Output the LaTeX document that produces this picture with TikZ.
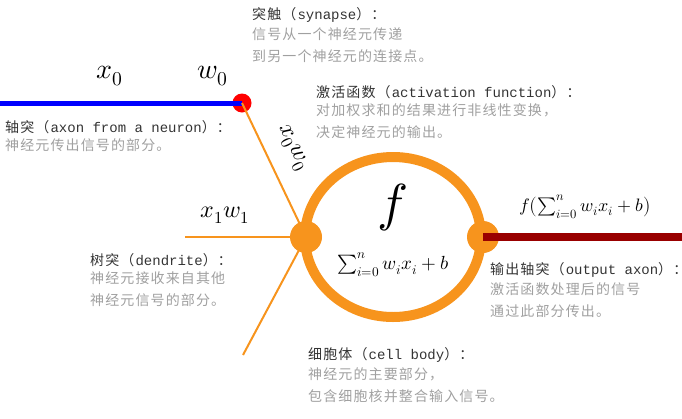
\documentclass[tikz,border=0pt]{standalone}
\usepackage{fontspec}
\usepackage{unicode-math}
\setmathfont{Latin Modern Math}
\setmonofont{Liberation Mono}
\newfontfamily\cjk[LetterSpace=8]{Noto Sans CJK SC}
\usetikzlibrary{positioning}
\definecolor{dendr}{HTML}{F7941D}
\definecolor{axon}{HTML}{990000}
\definecolor{note}{HTML}{A0A0A0}

\tikzset{
  head/.style={anchor=north west, inner sep=0pt, font=\cjk\fontsize{14}{16}\selectfont, text=black!80},
  grey/.style={anchor=north west, inner sep=0pt, align=left, font=\cjk\fontsize{14}{22}\selectfont, text=note},
  dot/.style={circle, inner sep=0pt, minimum size=#1}
}

\begin{document}
\begin{tikzpicture}[x=1pt, y=-1pt]
\useasboundingbox (0,0) rectangle (682,418);

% cell body and joints
\draw[dendr, line width=10] (393,237) ellipse (88 and 80);
\node[dot=32, fill=dendr] (in) at (306,237) {};
\node[dot=32, fill=dendr] (out) at (483,237) {};
\node[dot=19, fill=red] (syn) at (242,103) {};
\coordinate (a0) at (0,103);
\coordinate (d1) at (185,237);
\coordinate (d2) at (243,355);
\coordinate (a1) at (682,237);

% axons and dendrites
\draw[blue, line width=5] (a0) -- (syn.center);
\draw[dendr, line width=2] (syn.center) -- (in.center);
\draw[dendr, line width=2] (d1) -- (in.center);
\draw[dendr, line width=2] (d2) -- (in.center);
\draw[axon, line width=8] (out.center) -- (a1);

% math labels
\node[font=\fontsize{28}{30}\selectfont] (x0) at (110,76) {$x_0$};
\node[font=\fontsize{28}{30}\selectfont] (w0) at (213,76) {$w_0$};
\node[font=\fontsize{24}{26}\selectfont, rotate=-64] (x0w0) at (292,148) {$x_0w_0$};
\node[font=\fontsize{24}{26}\selectfont] (x1w1) at (225,215) {$x_1w_1$};
\node[font=\fontsize{52}{52}\selectfont] (f) at (393,207) {$f$};
\node[font=\fontsize{19}{21}\selectfont] (sum) at (393,265) {$\sum_{i=0}^n w_ix_i+b$};
\node[font=\fontsize{18}{20}\selectfont] (fout) at (585,207) {$f\bigl(\sum_{i=0}^n w_ix_i+b\bigr)$};

% notes
\foreach \nm/\x/\y/\hd/\tx in {
  syn/252/7/突触（\texttt{synapse}）：/信号从一个神经元传递\\到另一个神经元的连接点。,
  act/316/85/激活函数（\texttt{activation function}）：/对加权求和的结果进行非线性变换，\\决定神经元的输出。,
  axn/5/120/轴突（\texttt{axon from a neuron}）：/神经元传出信号的部分。,
  den/90/253/树突（\texttt{dendrite}）：/神经元接收来自其他\\神经元信号的部分。,
  oax/490/262/输出轴突（\texttt{output axon}）：/激活函数处理后的信号\\通过此部分传出。,
  bod/308/347/细胞体（\texttt{cell body}）：/神经元的主要部分，\\包含细胞核并整合输入信号。} {
  \node[head] (\nm-h) at (\x,\y) {\hd};
  \node[grey, below=5pt of \nm-h.south west, anchor=north west] (\nm-t) {\tx};
}
\end{tikzpicture}
\end{document}
